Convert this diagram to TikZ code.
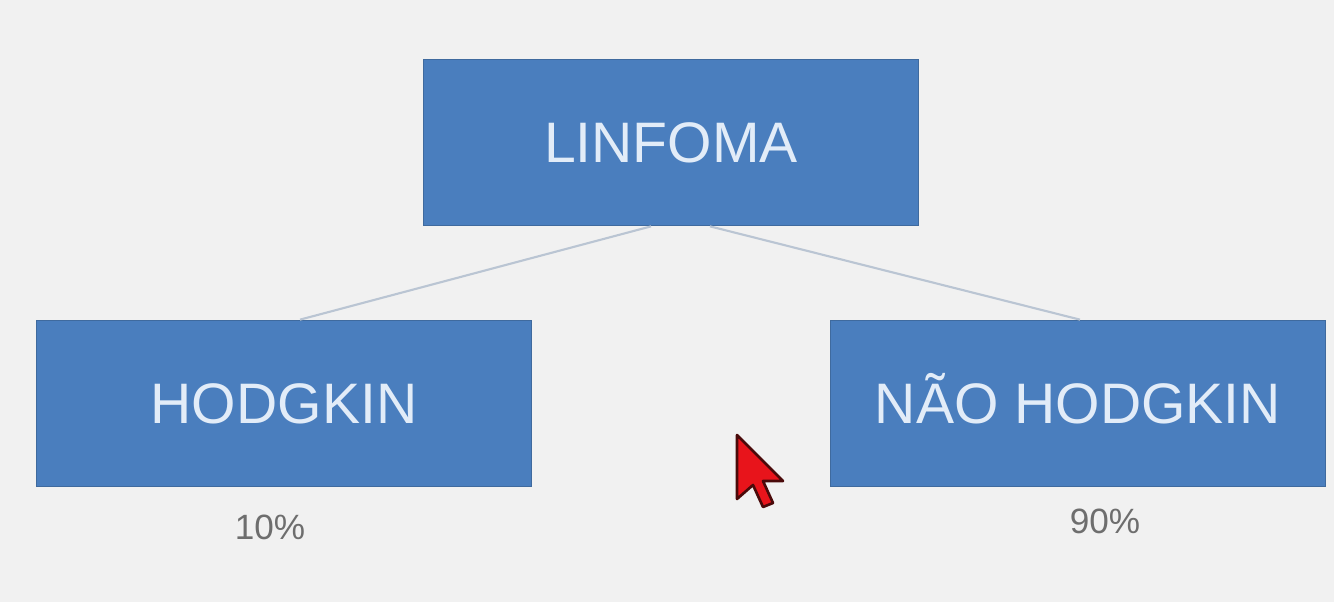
\documentclass[tikz,border=0pt]{standalone}
\usepackage{fontspec}
\setmainfont{Liberation Sans}
\definecolor{fundo}{HTML}{F1F1F1}
\definecolor{caixaazul}{HTML}{4A7EBE}
\definecolor{bordaazul}{HTML}{3F6A9E}
\definecolor{textocaixa}{HTML}{E2ECF8}
\definecolor{ligacao}{HTML}{BAC5D3}
\definecolor{textocinza}{HTML}{6E6E6E}
\definecolor{cursorverm}{HTML}{E8141B}
\definecolor{cursorborda}{HTML}{4A0A0A}
\tikzset{
    caixa/.style={draw=bordaazul, line width=1pt, fill=caixaazul, text=textocaixa,
        minimum width=9.9cm, minimum height=3.32cm, inner sep=0pt,
        text height=23.3pt, text depth=0pt,
        font=\fontsize{32.5}{36}\selectfont},
    ramo/.style={draw=ligacao, line width=1.2pt},
    percentagem/.style={text=textocinza, font=\fontsize{20}{24}\selectfont}
}
\begin{document}
\begin{tikzpicture}[x=0.02cm, y=-0.02cm]

% Fundo (fixa as margens)
\fill[fundo] (0,0) rectangle (1334,602);
\useasboundingbox (0,0) rectangle (1334,602);

% Caixas
\node[caixa] (linfoma) at (671,142.5) {LINFOMA};
\node[caixa] (hodgkin) at (284,403.5) {HODGKIN};
\node[caixa] (naohodgkin) at (1078,403.5) {NÃO HODGKIN};

% Ligações
\draw[ramo] ([xshift=-0.4cm]linfoma.south) -- ([xshift=0.32cm]hodgkin.north);
\draw[ramo] ([xshift=0.78cm]linfoma.south) -- ([xshift=0.04cm]naohodgkin.north);

% Percentagens
\node[percentagem] (p10) at (270,527) {10\%};
\node[percentagem] (p90) at (1105,521) {90\%};

% Cursor
\fill[cursorverm, draw=cursorborda, line width=1.5pt, line join=round]
    (737,435) -- ++(0,64) -- ++(16,-14) -- ++(10,22) -- ++(10,-4)
    -- ++(-10,-22) -- ++(20,0) -- cycle;

\end{tikzpicture}
\end{document}
